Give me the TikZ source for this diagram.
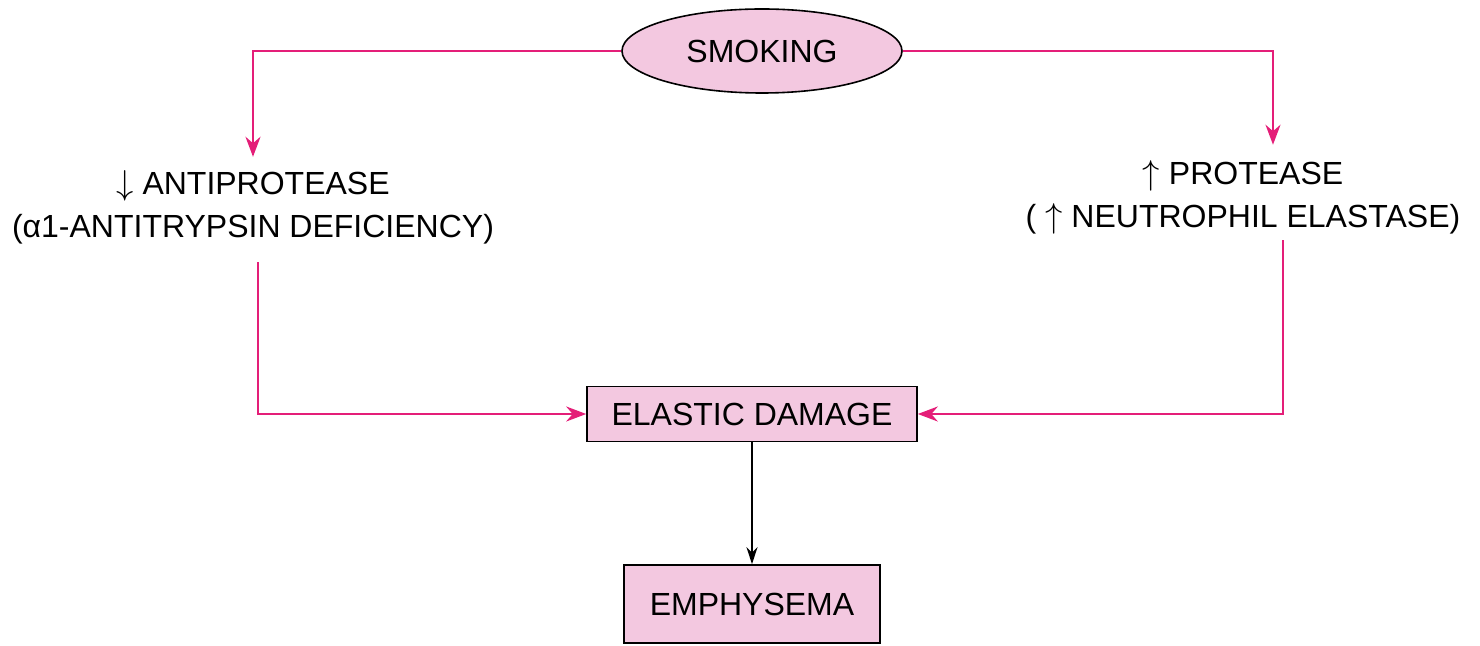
\documentclass[tikz,border=0pt]{standalone}
\usepackage{fontspec}
\setmainfont{Liberation Sans}
\usetikzlibrary{arrows.meta, shapes, positioning}
\definecolor{linkpink}{RGB}{228,30,120}
\definecolor{boxpink}{RGB}{243,200,224}

\begin{document}
\begin{tikzpicture}[x=0.5pt,y=-0.5pt,>={Stealth[length=10pt,width=7.5pt]},
  font=\fontsize{16}{21.5}\selectfont,
  cause/.style={ellipse,draw,thick,fill=boxpink,minimum width=140pt,minimum height=42pt},
  effect/.style={rectangle,draw,thick,fill=boxpink,inner sep=0pt},
  factor/.style={align=center,inner sep=3pt},
  pinkline/.style={->,draw=linkpink,line width=1.2pt}]
  \useasboundingbox (0,0) rectangle (1480,646);

  \node[cause] (smoke) at (762,51) {SMOKING};
  \node[factor] (anti) at (253,207) {$\downarrow$ ANTIPROTEASE\\(α1-ANTITRYPSIN DEFICIENCY)};
  \node[factor] (prot) at (1243,197) {$\uparrow$ PROTEASE\\( $\uparrow$ NEUTROPHIL ELASTASE)};
  \node[effect, minimum width=165pt, minimum height=27.5pt] (damage) at (752,414) {ELASTIC DAMAGE};
  \node[effect, minimum width=128pt, minimum height=39pt] (emph) at (752,604) {EMPHYSEMA};

  % smoking splits into the two arms
  \draw[pinkline] (smoke.west) -| ([yshift=3.5pt]anti.north);
  \draw[pinkline] (smoke.east) -| ([xshift=15pt,yshift=4.5pt]prot.north);
  % both arms meet at the damage box
  \draw[pinkline] ([xshift=2.5pt,yshift=-6pt]anti.south) |- (damage.west);
  \draw[pinkline] ([xshift=20pt]prot.south) |- (damage.east);
  \draw[->,>={Stealth[length=8.5pt,width=5.5pt]},line width=0.7pt] (damage) -- (emph);
\end{tikzpicture}
\end{document}
